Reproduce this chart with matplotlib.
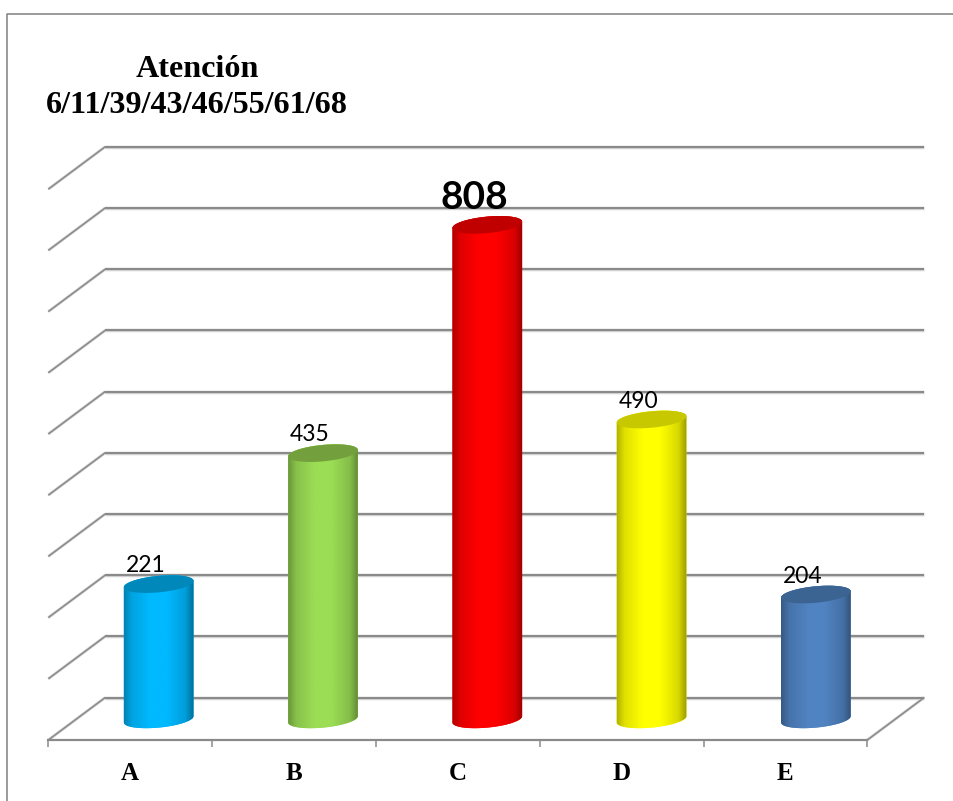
import numpy as np
import matplotlib
matplotlib.use("Agg")
import matplotlib.pyplot as plt
from matplotlib.colors import LinearSegmentedColormap, to_rgb
from matplotlib.lines import Line2D
from matplotlib.patches import Polygon

categorias = ["A", "B", "C", "D", "E"]
valores = [221, 435, 808, 490, 204]
colores = ["#00B9FF", "#9BDD55", "#FF0000", "#FFFF00", "#5083C2"]
tapas = ["#0088BB", "#73A03C", "#C00000", "#C8C800", "#3B6492"]
niveles = list(range(0, 1000, 100))
titulo = "Atención\n6/11/39/43/46/55/61/68"

# tamano de un paso de cada eje, en pixeles
PX_X = 163.8
PX_Y = 0.612
FONDO_X = 57 / PX_X
FONDO_Y = 42.5 / PX_Y
GRIS = "#8a8a8a"
SUAVE = "#d4d4d4"


def elipse(cx, cy, t):
    """Contorno de la elipse inclinada del cilindro, en unidades de datos"""
    a, b, ang = 35.0, 8.2, np.radians(5.5)
    x = a * np.cos(t) * np.cos(ang) - b * np.sin(t) * np.sin(ang)
    y = a * np.cos(t) * np.sin(ang) + b * np.sin(t) * np.cos(ang)
    return cx + x / PX_X, cy + y / PX_Y


def mapa(color):
    base = np.array(to_rgb(color))
    return LinearSegmentedColormap.from_list(
        "c", [(0, base * 0.68), (0.12, base * 0.88), (0.38, base), (0.62, base),
              (0.88, base * 0.85), (1, base * 0.6)]
    )


def linea(xs, ys, ancho=1.5):
    ax.plot(xs, ys, color=SUAVE, lw=ancho + 1.0, zorder=1, clip_on=False, solid_capstyle="butt")
    ax.plot(xs, ys, color=GRIS, lw=ancho, zorder=1.1, clip_on=False, solid_capstyle="butt")


fig = plt.figure(figsize=(9.54, 8.01), dpi=100)
ax = fig.add_axes([48.3 / 954, 61 / 801, 819 / 954, 550.8 / 801])
ax.set_xlim(-0.5, 4.5)
ax.set_ylim(0, 900)

# Pared del fondo y pared lateral
for v in niveles:
    linea([-0.5 + FONDO_X, 4.5 + FONDO_X], [v + FONDO_Y, v + FONDO_Y])
    linea([-0.5, -0.5 + FONDO_X], [v, v + FONDO_Y], 1.1)
linea([4.5, 4.5 + FONDO_X], [0, FONDO_Y], 1.1)

# Cilindros, a media profundidad
for i, v in enumerate(valores):
    cx = i * 1.003 + FONDO_X / 2
    base = FONDO_Y / 2 - 1
    xb, yb = elipse(cx, base, np.linspace(np.pi, 2 * np.pi, 60))
    xt, yt = elipse(cx, base + v, np.linspace(0, np.pi, 60))
    cuerpo = Polygon(np.column_stack([np.r_[xb, xt], np.r_[yb, yt]]), closed=True,
                     facecolor=colores[i], edgecolor="none", zorder=2)
    ax.add_patch(cuerpo)
    ancho = 35.2 / PX_X
    im = ax.imshow(np.linspace(0, 1, 256).reshape(1, -1), cmap=mapa(colores[i]),
                   extent=[cx - ancho, cx + ancho, base - 30, base + v + 30],
                   aspect="auto", interpolation="bilinear", zorder=2.1)
    im.set_clip_path(cuerpo)
    xe, ye = elipse(cx, base + v, np.linspace(0, 2 * np.pi, 120))
    ax.fill(xe, ye, color=tapas[i], lw=0, zorder=2.2)
    grande = v == max(valores)
    ax.annotate(str(v), (cx, base + v), xytext=(-9.5, 11.5 if grande else 8.5),
                textcoords="offset points", ha="center", va="baseline", zorder=5,
                family="Lato", fontsize=28 if grande else 16.5,
                fontweight="bold" if grande else "normal", color="black",
                annotation_clip=False)

ax.set_xlim(-0.5, 4.5)
ax.set_ylim(0, 900)

# Eje de categorias
for lado in ["left", "right", "top"]:
    ax.spines[lado].set_visible(False)
ax.spines["bottom"].set_color(GRIS)
ax.spines["bottom"].set_linewidth(1.6)
ax.set_yticks([])
ax.set_xticks(np.arange(-0.5, 5.0, 1.0))
ax.set_xticklabels([])
ax.set_xticks(range(len(categorias)), categorias, minor=True,
              family="Liberation Serif", fontweight="bold", fontsize=18)
ax.tick_params(axis="x", which="major", length=5, width=1.1, color=GRIS)
ax.tick_params(axis="x", which="minor", length=0, pad=16)

fig.text(197 / 954, 1 - 113 / 801, titulo, ha="center", va="baseline", multialignment="center",
         family="Liberation Serif", fontweight="bold", fontsize=23.1, linespacing=1.33)

# Marco del grafico (solo arriba e izquierda)
marco = Line2D([7.5 / 954, 7.5 / 954, 1], [0, 1 - 13.5 / 801, 1 - 13.5 / 801],
               transform=fig.transFigure, color="#808080", lw=1.1)
fig.add_artist(marco)

fig.savefig("out.png", dpi=100)
